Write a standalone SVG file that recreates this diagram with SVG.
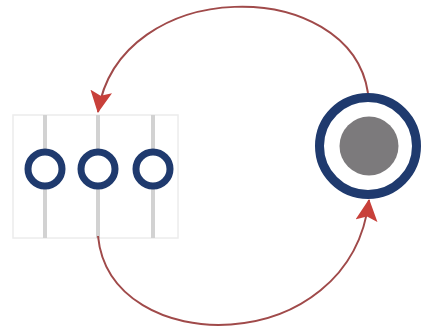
<svg xmlns="http://www.w3.org/2000/svg" width="424" height="331" viewBox="0 0 424 331">
<style>
.rail{stroke:#d2d2d2;stroke-width:4;fill:none}
.frame{stroke:#ececec;stroke-width:1.5;fill:none}
.port{fill:#ffffff;stroke:#1f3a6e;stroke-width:7}
.ring{fill:#ffffff;stroke:#1f3a6e;stroke-width:9}
.core{fill:#7c7a7c}
.edge{fill:none;stroke:#a04a4a;stroke-width:2}
</style>
<defs>
<marker id="ah" viewBox="0 0 20 20" refX="19" refY="10" markerWidth="22" markerHeight="22" markerUnits="userSpaceOnUse" orient="auto">
<path d="M0,0 L20,10 L0,20 L4,10 z" fill="#c8403a"/>
</marker>
</defs>
<rect width="424" height="331" fill="#ffffff"/>
<g id="bus">
<rect class="frame" x="13" y="115" width="165" height="123"/>
<line class="rail" x1="45" y1="115" x2="45" y2="238"/>
<line class="rail" x1="98" y1="115" x2="98" y2="238"/>
<line class="rail" x1="153" y1="115" x2="153" y2="238"/>
<circle class="port" cx="45" cy="169" r="17"/>
<circle class="port" cx="98" cy="169" r="17"/>
<circle class="port" cx="153" cy="169" r="17"/>
</g>
<g id="hub">
<circle class="ring" cx="368" cy="146" r="48.5"/>
<circle class="core" cx="369" cy="146" r="29.5"/>
</g>
<g id="connectors">
<path class="edge" d="M368,93 C350,-25 120,-25 98,112" marker-end="url(#ah)"/>
<path class="edge" d="M98,236 C110,360 350,360 369,200" marker-end="url(#ah)"/>
</g>
</svg>
